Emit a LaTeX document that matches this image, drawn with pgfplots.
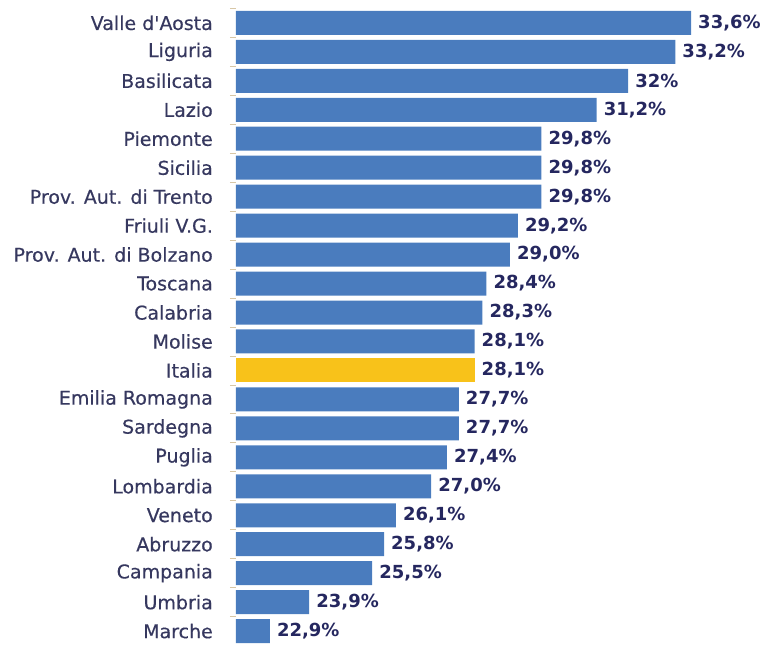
\documentclass[border=0pt]{standalone}
\usepackage{fontspec}
\setmainfont{DejaVu Sans}
\newfontfamily\labfont[FakeBold=0.4]{DejaVu Sans}
\usepackage{pgfplots}
\pgfplotsset{compat=1.18}
\usepackage{pgfplotstable}
\definecolor{barblue}{HTML}{4A7CBE}
\definecolor{baryellow}{HTML}{F8C21A}
\definecolor{labnavy}{HTML}{36385F}
\definecolor{valnavy}{HTML}{25275F}
\definecolor{ticktan}{HTML}{D8C7A6}

\pgfplotstableread{
idx val lab
0 33.6 33,6\%
1 33.2 33,2\%
2 32.0 32\%
3 31.2 31,2\%
4 29.8 29,8\%
5 29.8 29,8\%
6 29.8 29,8\%
7 29.2 29,2\%
8 29.0 29,0\%
9 28.4 28,4\%
10 28.3 28,3\%
11 28.1 28,1\%
13 27.7 27,7\%
14 27.7 27,7\%
15 27.4 27,4\%
16 27.0 27,0\%
17 26.1 26,1\%
18 25.8 25,8\%
19 25.5 25,5\%
20 23.9 23,9\%
21 22.9 22,9\%
}\regioni

\pgfplotstableread{
idx val lab
12 28.1 28,1\%
}\italia

\begin{document}
\begin{tikzpicture}
\begin{axis}[
  scale only axis, width=531pt, height=645pt,
  xbar, bar width=24pt, bar shift=0pt,
  xmin=22.04, xmax=35.53,
  ymin=-0.79, ymax=21.48, y dir=reverse,
  hide x axis,
  axis y line*=left,
  y axis line style={draw=none},
  tick align=outside,
  ytick={0,...,21},
  yticklabels={{Valle d\textquotesingle Aosta},{Liguria},{Basilicata},{Lazio},{Piemonte},{Sicilia},{Prov. Aut. di Trento},{Friuli V.G.},{Prov. Aut. di Bolzano},{Toscana},{Calabria},{Molise},{Italia},{Emilia Romagna},{Sardegna},{Puglia},{Lombardia},{Veneto},{Abruzzo},{Campania},{Umbria},{Marche}},
  major tick length=0pt,
  yticklabel style={font=\labfont\fontsize{19}{21}\selectfont, text=labnavy, inner sep=0pt, xshift=-23pt},
  extra y ticks={-0.5,0.5,...,20.5},
  extra y tick labels={},
  extra y tick style={major tick length=6pt, tick style={draw=ticktan, line width=0.8pt}},
  clip mode=individual,
  nodes near coords, point meta=explicit symbolic,
  every node near coord/.append style={font=\bfseries\fontsize{18}{20}\selectfont, text=valnavy, anchor=west, inner sep=0pt, xshift=7pt},
]
\addplot[fill=barblue, draw=none] table[x=val, y=idx, meta=lab] {\regioni};
\addplot[fill=baryellow, draw=none] table[x=val, y=idx, meta=lab] {\italia};
\coordinate (A) at (rel axis cs:0,0);
\coordinate (B) at (rel axis cs:1,1);
\end{axis}
\pgfresetboundingbox
\useasboundingbox ([xshift=-236pt]A) rectangle (B);
\end{tikzpicture}
\end{document}
